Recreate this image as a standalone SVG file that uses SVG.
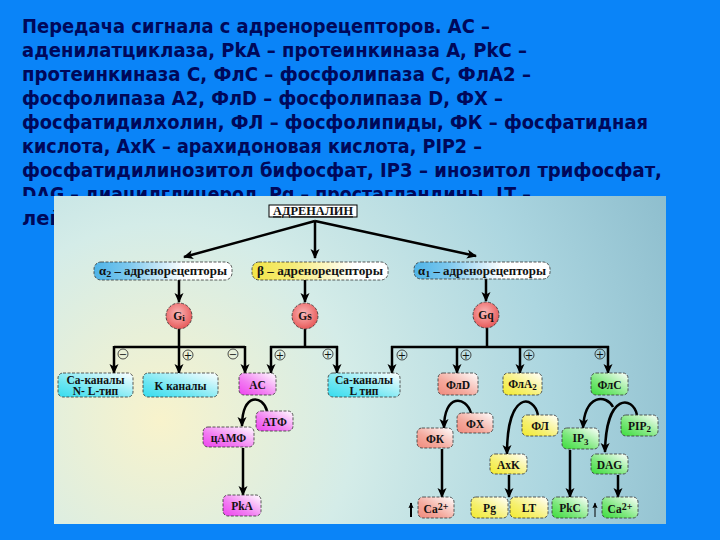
<svg xmlns="http://www.w3.org/2000/svg" width="720" height="540" viewBox="0 0 720 540">
<defs>
<radialGradient id="panelG" gradientUnits="userSpaceOnUse" cx="160" cy="420" r="560">
<stop offset="0" stop-color="#f8f3cc"/>
<stop offset="0.35" stop-color="#d4ece8"/>
<stop offset="0.7" stop-color="#acd6e0"/>
<stop offset="1" stop-color="#8dbdcd"/>
</radialGradient>
<linearGradient id="rBlue" x1="0" y1="0" x2="1" y2="0"><stop offset="0" stop-color="#4fb4e8"/><stop offset="0.25" stop-color="#7cc8ee"/><stop offset="0.65" stop-color="#ffffff"/></linearGradient>
<linearGradient id="rYel" x1="0" y1="0" x2="1" y2="0"><stop offset="0" stop-color="#f2e448"/><stop offset="0.3" stop-color="#f6ec78"/><stop offset="0.75" stop-color="#ffffff"/></linearGradient>
<linearGradient id="cyan" x1="0" y1="1" x2="1" y2="0"><stop offset="0" stop-color="#36dcee"/><stop offset="0.35" stop-color="#6ee6f2"/><stop offset="1" stop-color="#ffffff"/></linearGradient>
<linearGradient id="mag" x1="0" y1="1" x2="1" y2="0"><stop offset="0" stop-color="#ee44ee"/><stop offset="0.4" stop-color="#f27ef2"/><stop offset="1" stop-color="#ffffff"/></linearGradient>
<linearGradient id="sal" x1="0" y1="1" x2="1" y2="0"><stop offset="0" stop-color="#f08a7c"/><stop offset="0.4" stop-color="#f4aa9e"/><stop offset="1" stop-color="#ffffff"/></linearGradient>
<linearGradient id="yel" x1="0" y1="1" x2="1" y2="0"><stop offset="0" stop-color="#f2ea30"/><stop offset="0.4" stop-color="#f6f070"/><stop offset="1" stop-color="#ffffff"/></linearGradient>
<linearGradient id="grn" x1="0" y1="1" x2="1" y2="0"><stop offset="0" stop-color="#3cdc3c"/><stop offset="0.4" stop-color="#7ce87c"/><stop offset="1" stop-color="#ffffff"/></linearGradient>
<radialGradient id="gRed" cx="0.45" cy="0.4" r="0.6"><stop offset="0" stop-color="#f8b8b8"/><stop offset="0.6" stop-color="#f08080"/><stop offset="1" stop-color="#e65a5a"/></radialGradient>
<clipPath id="clip8"><rect x="0" y="170" width="720" height="26"/></clipPath>
<clipPath id="clip9"><rect x="0" y="196" width="54" height="40"/></clipPath>
<marker id="ah" viewBox="0 0 10 10" refX="9" refY="5" markerWidth="11" markerHeight="10" markerUnits="userSpaceOnUse" orient="auto">
<path d="M0,0.5 L10,5 L0,9.5 L2.5,5 z" fill="#000"/>
</marker>
<marker id="ahs" viewBox="0 0 10 10" refX="9" refY="5" markerWidth="6" markerHeight="6" markerUnits="userSpaceOnUse" orient="auto">
<path d="M0,0.5 L10,5 L0,9.5 L2.5,5 z" fill="#000"/>
</marker>
</defs>
<style>
.title{font-family:"DejaVu Sans","Liberation Sans",sans-serif;font-weight:bold;font-size:19.5px;fill:#00085a}
.lbl{font-family:"Liberation Serif","DejaVu Serif",serif;font-weight:bold;font-size:11.5px;fill:#111;text-anchor:middle}
.box{stroke:#333;stroke-width:0.8;stroke-dasharray:3 1.5}
.ln{fill:none;stroke:#000;stroke-width:2.5}
.ar{fill:none;stroke:#000;stroke-width:2.5;marker-end:url(#ah)}
.sg{fill:none;stroke:#222;stroke-width:0.8}
.sgt{font-family:"DejaVu Sans",sans-serif;font-size:10px;fill:#111;text-anchor:middle}
</style>
<rect x="0" y="0" width="720" height="540" fill="#0a84f8"/>
<g id="title">
<text class="title" x="22" y="33" textLength="468" lengthAdjust="spacingAndGlyphs">Передача сигнала с адренорецепторов. АС –</text>
<text class="title" x="22" y="57" textLength="505" lengthAdjust="spacingAndGlyphs">аденилатциклаза, PkA – протеинкиназа А, PkC –</text>
<text class="title" x="22" y="81" textLength="509" lengthAdjust="spacingAndGlyphs">протеинкиназа С, ФлС – фосфолипаза С, ФлА2 –</text>
<text class="title" x="22" y="105" textLength="481" lengthAdjust="spacingAndGlyphs">фосфолипаза А2, ФлD – фосфолипаза D, ФХ –</text>
<text class="title" x="22" y="129" textLength="626" lengthAdjust="spacingAndGlyphs">фосфатидилхолин, ФЛ – фосфолипиды, ФК – фосфатидная</text>
<text class="title" x="22" y="153" textLength="460" lengthAdjust="spacingAndGlyphs">кислота, АхК – арахидоновая кислота, PIP2 –</text>
<text class="title" x="22" y="177" textLength="640" lengthAdjust="spacingAndGlyphs">фосфатидилинозитол бифосфат, IP3 – инозитол трифосфат,</text>
<text class="title" x="22" y="201" textLength="509" lengthAdjust="spacingAndGlyphs" clip-path="url(#clip8)">DAG – диацилглицерол, Pg – простагландины, LT –</text>
<text class="title" x="22" y="225" clip-path="url(#clip9)">лейкотриены.</text>
</g>
<rect id="panel" x="54" y="196" width="612" height="328" fill="url(#panelG)"/>
<g id="connectors">
<path class="ar" d="M315,221 L184,257"/>
<path class="ar" d="M315,221 L315,258"/>
<path class="ar" d="M315,221 L476,256"/>
<path class="ar" d="M179,280 V302"/>
<path class="ar" d="M305,280 V302"/>
<path class="ar" d="M486,279 V301"/>
<path class="ln" d="M179,329 V347 M114,347 H245"/>
<path class="ar" d="M114,346 V373"/>
<path class="ar" d="M179,346 V373"/>
<path class="ar" d="M245,346 V373"/>
<path class="ln" d="M305,329 V347 M270,347 H338"/>
<path class="ar" d="M271,346 V373"/>
<path class="ar" d="M337,346 V373"/>
<path class="ln" d="M487,328 V347 M391,347 H609"/>
<path class="ar" d="M392,346 V373"/>
<path class="ar" d="M457,346 V373"/>
<path class="ar" d="M520,346 V373"/>
<path class="ar" d="M608,346 V373"/>
<path class="ar" d="M267,411 C263,395 242,392 242,426"/>
<path class="ar" d="M243,448 V495"/>
<path class="ar" d="M471,413 C466,396 444,393 444,428"/>
<path class="ar" d="M442,449 V497"/>
<path class="ar" d="M538,415 C534,395 507,390 507,454"/>
<path class="ar" d="M509,475 V497"/>
<path class="ar" d="M637,415 C633,396 606,392 605,452"/>
<path class="ar" d="M613,407 C606,394 585,394 583,428"/>
<path class="ar" d="M570,450 V497"/>
<path class="ar" d="M618,475 V497"/>
<path d="M411,517 V503" stroke="#000" stroke-width="2" marker-end="url(#ahs)"/>
<path d="M595,517 V503" stroke="#000" stroke-width="1" marker-end="url(#ahs)"/>
<g id="signs">
<circle class="sg" cx="123" cy="354" r="5"/><text class="sgt" x="123" y="357.5">−</text>
<circle class="sg" cx="188" cy="355" r="5"/><text class="sgt" x="188" y="358.5">+</text>
<circle class="sg" cx="233" cy="354" r="5"/><text class="sgt" x="233" y="357.5">−</text>
<circle class="sg" cx="280" cy="355" r="5"/><text class="sgt" x="280" y="358.5">+</text>
<circle class="sg" cx="328" cy="354" r="5"/><text class="sgt" x="328" y="357.5">+</text>
<circle class="sg" cx="402" cy="355" r="5"/><text class="sgt" x="402" y="358.5">+</text>
<circle class="sg" cx="466" cy="355" r="5"/><text class="sgt" x="466" y="358.5">+</text>
<circle class="sg" cx="529" cy="355" r="5"/><text class="sgt" x="529" y="358.5">+</text>
<circle class="sg" cx="600" cy="354" r="5"/><text class="sgt" x="600" y="357.5">+</text>
</g>
</g>
<g id="adrenalin"><rect x="269" y="205" width="88" height="12" fill="#fff" stroke="#000" stroke-width="1"/><text class="lbl" x="313" y="215.3" font-size="9.5" text-decoration="underline" textLength="80" lengthAdjust="spacingAndGlyphs">АДРЕНАЛИН</text></g>
<g id="a2"><rect class="box" x="94" y="262" width="138" height="18" rx="7" fill="url(#rBlue)"/><text class="lbl" x="163" y="275" font-size="12" textLength="128" lengthAdjust="spacingAndGlyphs">α<tspan font-size="9" dy="2">2</tspan><tspan dy="-2"> – адренорецепторы</tspan></text></g>
<g id="beta"><rect class="box" x="252" y="262" width="136" height="18" rx="7" fill="url(#rYel)"/><text class="lbl" x="320" y="275" font-size="12" textLength="126" lengthAdjust="spacingAndGlyphs">β – адренорецепторы</text></g>
<g id="a1"><rect class="box" x="414" y="262" width="136" height="17" rx="7" fill="url(#rBlue)"/><text class="lbl" x="482" y="275" font-size="12" textLength="128" lengthAdjust="spacingAndGlyphs">α<tspan font-size="9" dy="2">1</tspan><tspan dy="-2"> – адренорецепторы</tspan></text></g>
<g id="gi"><circle class="box" cx="179" cy="316" r="13" fill="url(#gRed)"/><text class="lbl" x="179" y="320" font-size="12">G<tspan font-size="9" dy="1">i</tspan></text></g>
<g id="gs"><circle class="box" cx="305" cy="316" r="13" fill="url(#gRed)"/><text class="lbl" x="305" y="320" font-size="12">Gs</text></g>
<g id="gq"><circle class="box" cx="486" cy="315" r="13" fill="url(#gRed)"/><text class="lbl" x="486" y="319" font-size="12">Gq</text></g>
<g id="caNL"><rect class="box" x="58" y="373" width="75" height="24" rx="5" fill="url(#cyan)"/><text class="lbl" x="95.5" y="384" font-size="11">Ca-каналы</text><text class="lbl" x="95.5" y="394.5" font-size="11">N- L-тип</text></g>
<g id="kch"><rect class="box" x="143" y="373" width="75" height="24" rx="5" fill="url(#cyan)"/><text class="lbl" x="180.5" y="389.5" font-size="14">K каналы</text></g>
<g id="ac"><rect class="box" x="239" y="373" width="37" height="22" rx="5" fill="url(#mag)"/><text class="lbl" x="257.5" y="388.5" font-size="12">AC</text></g>
<g id="caL"><rect class="box" x="328" y="373" width="72" height="24" rx="5" fill="url(#cyan)"/><text class="lbl" x="364" y="384" font-size="11">Ca-каналы</text><text class="lbl" x="364" y="394.5" font-size="11">L тип</text></g>
<g id="fld"><rect class="box" x="438" y="373" width="40" height="22" rx="5" fill="url(#sal)"/><text class="lbl" x="458" y="388.5">ФлD</text></g>
<g id="fla2"><rect class="box" x="503" y="373" width="39" height="22" rx="5" fill="url(#yel)"/><text class="lbl" x="522.5" y="388">ФлA<tspan font-size="9" dy="2">2</tspan></text></g>
<g id="flc"><rect class="box" x="591" y="373" width="37" height="22" rx="5" fill="url(#grn)"/><text class="lbl" x="609.5" y="388.5">ФлC</text></g>
<g id="atf"><rect class="box" x="256" y="411" width="37" height="20" rx="5" fill="url(#mag)"/><text class="lbl" x="274.5" y="425.5">АТФ</text></g>
<g id="camf"><rect class="box" x="203" y="427" width="51" height="20" rx="5" fill="url(#mag)"/><text class="lbl" x="228.5" y="441.5">цАМФ</text></g>
<g id="pka"><rect class="box" x="223" y="495" width="38" height="21" rx="5" fill="url(#mag)"/><text class="lbl" x="242" y="509.5">PkA</text></g>
<g id="fx"><rect class="box" x="457" y="413" width="36" height="20" rx="5" fill="url(#sal)"/><text class="lbl" x="475" y="427.5">ФХ</text></g>
<g id="fk"><rect class="box" x="417" y="428" width="36" height="20" rx="5" fill="url(#sal)"/><text class="lbl" x="435" y="442.5">ФК</text></g>
<g id="ca1"><rect class="box" x="418" y="497" width="36" height="21" rx="5" fill="url(#sal)"/><text class="lbl" x="436" y="512.5" font-size="12">Ca<tspan font-size="10" dy="-3">2+</tspan></text></g>
<g id="fl"><rect class="box" x="522" y="415" width="36" height="21" rx="5" fill="url(#yel)"/><text class="lbl" x="540" y="429.5">ФЛ</text></g>
<g id="axk"><rect class="box" x="490" y="454" width="37" height="20" rx="5" fill="url(#yel)"/><text class="lbl" x="508.5" y="468.5">AxK</text></g>
<g id="pg"><rect class="box" x="471" y="497" width="37" height="21" rx="5" fill="url(#yel)"/><text class="lbl" x="489.5" y="511.5">Pg</text></g>
<g id="lt"><rect class="box" x="510" y="497" width="38" height="21" rx="5" fill="url(#yel)"/><text class="lbl" x="529" y="511.5">LT</text></g>
<g id="pip2"><rect class="box" x="621" y="415" width="37" height="21" rx="5" fill="url(#grn)"/><text class="lbl" x="639.5" y="429.5">PIP<tspan font-size="9" dy="2">2</tspan></text></g>
<g id="ip3"><rect class="box" x="562" y="428" width="37" height="21" rx="5" fill="url(#grn)"/><text class="lbl" x="580.5" y="441.5">IP<tspan font-size="9" dy="3">3</tspan></text></g>
<g id="dag"><rect class="box" x="591" y="454" width="37" height="20" rx="5" fill="url(#grn)"/><text class="lbl" x="609.5" y="468.5">DAG</text></g>
<g id="pkc"><rect class="box" x="552" y="497" width="36" height="21" rx="5" fill="url(#grn)"/><text class="lbl" x="570" y="511.5">PkC</text></g>
<g id="ca2"><rect class="box" x="602" y="497" width="36" height="21" rx="5" fill="url(#grn)"/><text class="lbl" x="620" y="512.5" font-size="12">Ca<tspan font-size="10" dy="-3">2+</tspan></text></g>
</svg>
